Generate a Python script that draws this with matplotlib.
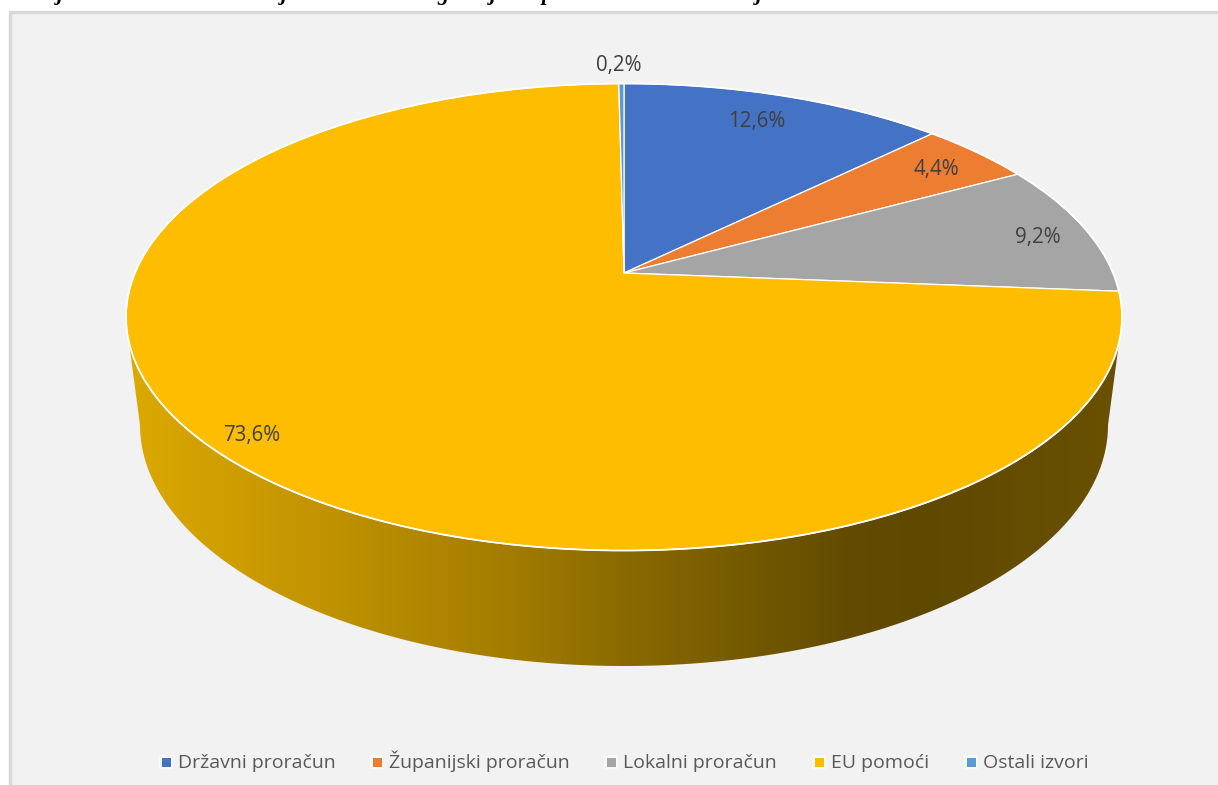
#!/usr/bin/env python
import numpy as np
import matplotlib.pyplot as plt
from matplotlib.colors import LinearSegmentedColormap
from matplotlib.patches import Ellipse, Polygon, Rectangle

labels = ['Državni proračun', 'Županijski proračun', 'Lokalni proračun', 'EU pomoći', 'Ostali izvori']
values = [12.6, 4.4, 9.2, 73.6, 0.2]
colors = ['#4472C4', '#ED7D31', '#A5A5A5', '#FFBD00', '#5B9BD5']
value_text = ['12,6%', '4,4%', '9,2%', '73,6%', '0,2%']

# pixel positions of the data labels and legend entries
label_x = [757, 936, 1038, 252, 619]
label_y = [121, 169, 238, 436, 65]
legend_x = [166, 377, 611, 819, 971]

# what is left of the cut off caption at the top of the page
caption_glyphs = ['j', 'j', 'g', 'j', 'p', 'j']
caption_x = [57, 281, 437, 490, 542, 756]

# top face and lower rim of the disc, in pixels
cx, cy, a, b = 624, 317, 498, 233.5
cx2, cy2, a2, b2 = 624, 425, 484, 241
apex_y = 273
persp = 0.83

# side shading, left to right
shade = ['#DCA900', '#C59600', '#A47D00', '#8A6A00', '#634C00', '#5F4900', '#6A5100']
shade_pos = [0, 0.17, 0.38, 0.5, 0.72, 0.8, 1]

fig = plt.figure(figsize=(12.18, 7.85), dpi=100)
ax = fig.add_axes([0, 0, 1, 1])
ax.axis('off')

ax.add_patch(Rectangle((10, 12), 1230, 800, fc='#F2F2F2', ec='#D9D9D9', lw=2.5))


def rim(theta):
    # circle angle -> point on the top ellipse with the perspective shift
    t = 2 * np.arctan2(persp * np.sin(theta / 2), np.cos(theta / 2))
    return cx + a * np.sin(t), cy - b * np.cos(t)


# side of the disc
phi = np.linspace(np.pi, 0, 300)
side_x = np.r_[cx - a * 0.994, cx2 + a2 * np.cos(phi), cx + a * 0.994]
side_y = np.r_[cy + b * 0.109, cy2 + b2 * np.sin(phi), cy + b * 0.109]
side = Polygon(np.c_[side_x, side_y], closed=True, fc='none', ec='none')
ax.add_patch(side)
cmap = LinearSegmentedColormap.from_list('side', list(zip(shade_pos, shade)))
im = ax.imshow(np.linspace(0, 1, 256).reshape(1, -1), cmap=cmap, aspect='auto',
               extent=(cx - a, cx + a, 700, 250), zorder=1)
im.set_clip_path(side)

# top face
start = 0
for i in range(len(values)):
    th = np.radians(np.linspace(start, start + values[i], 300) * 3.6)
    x, y = rim(th)
    pts = np.c_[np.r_[cx, x], np.r_[apex_y, y]]
    ax.add_patch(Polygon(pts, closed=True, fc=colors[i], ec='white', lw=0.9, zorder=2, joinstyle='round'))
    start += values[i]
ax.add_patch(Ellipse((cx, cy), 2 * a, 2 * b, fc='none', ec='white', lw=1.3, zorder=2))

for i in range(len(values)):
    ax.text(label_x[i], label_y[i], value_text[i], ha='center', va='center', fontsize=14.8,
            family='Open Sans', color='#404040', zorder=3)

for i in range(len(labels)):
    ax.add_patch(Rectangle((legend_x[i] - 7, 755), 14, 14, fc='white', ec='none', alpha=0.5))
    ax.add_patch(Rectangle((legend_x[i] - 4.5, 757.5), 9, 9, fc=colors[i], ec='none', zorder=3))
    ax.text(legend_x[i] + 12, 768, labels[i], ha='left', va='baseline', fontsize=14,
            family='Open Sans', color='#595959')

for g, x in zip(caption_glyphs, caption_x):
    ax.text(x, 0, g, ha='left', va='baseline', fontsize=16, family='Liberation Serif',
            style='italic', weight='bold', color='black', clip_on=False)

ax.set_xlim(0, 1218)
ax.set_ylim(785, 0)
plt.savefig('out.png', dpi=100)
